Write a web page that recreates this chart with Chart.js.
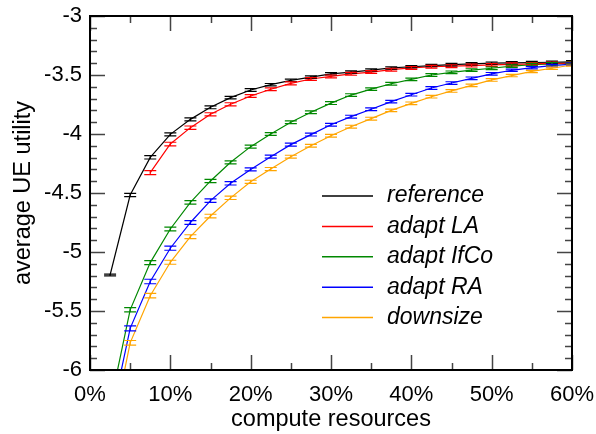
<!DOCTYPE html>
<html>
<head>
<meta charset="utf-8">
<script src="https://cdn.jsdelivr.net/npm/chart.js@4/dist/chart.umd.min.js"></script>
<style>
  body { margin: 0; background: #fff; }
  canvas { display: block; }
</style>
</head>
<body>
<canvas id="utility" width="596" height="434"></canvas>
<script>
// compute resources (%) at which each point was measured
var resources = [2.5, 5, 7.5, 10, 12.5, 15, 17.5, 20, 22.5, 25, 27.5, 30,
                 32.5, 35, 37.5, 40, 42.5, 45, 47.5, 50, 52.5, 55, 57.5, 60];

var labels = ['reference', 'adapt LA', 'adapt IfCo', 'adapt RA', 'downsize'];

var reference = [-5.195, -4.517, -4.198, -4.003, -3.876, -3.774, -3.692, -3.627, -3.582, -3.545, -3.518, -3.49,
                 -3.475, -3.458, -3.44, -3.43, -3.42, -3.412, -3.405, -3.40, -3.397, -3.394, -3.392, -3.388];
var adaptLA = [null, null, -4.328, -4.085, -3.946, -3.833, -3.748, -3.678, -3.621, -3.571, -3.534, -3.512,
               -3.49, -3.475, -3.455, -3.44, -3.43, -3.425, -3.42, -3.415, -3.41, -3.405, -3.402, -3.40];
var adaptIfCo = [-6.3, -5.49, -5.09, -4.805, -4.58, -4.398, -4.24, -4.107, -4.0, -3.90, -3.816, -3.738,
                 -3.67, -3.62, -3.574, -3.537, -3.50, -3.477, -3.458, -3.443, -3.425, -3.412, -3.405, -3.40];
var adaptRA = [-6.45, -5.647, -5.25, -4.968, -4.75, -4.565, -4.418, -4.30, -4.192, -4.09, -4.005, -3.922,
               -3.853, -3.79, -3.726, -3.667, -3.61, -3.568, -3.528, -3.49, -3.46, -3.438, -3.42, -3.407];
var downsize = [-6.6, -5.77, -5.37, -5.087, -4.87, -4.695, -4.541, -4.405, -4.297, -4.192, -4.10, -4.015,
                -3.938, -3.87, -3.80, -3.74, -3.684, -3.635, -3.588, -3.542, -3.505, -3.47, -3.443, -3.415];

// half widths of the confidence intervals
var refErr = [0.008, 0.014, 0.014, 0.013, 0.012, 0.012, 0.011, 0.011, 0.010, 0.010, 0.010, 0.010,
              0.010, 0.010, 0.010, 0.010, 0.010, 0.010, 0.010, 0.010, 0.010, 0.010, 0.010, 0.010];
var laErr = [null, null, 0.017, 0.015, 0.014, 0.013, 0.013, 0.012, 0.012, 0.012, 0.012, 0.012,
             0.012, 0.012, 0.012, 0.012, 0.012, 0.012, 0.012, 0.012, 0.012, 0.011, 0.011, 0.011];
var ifcoErr = [0.02, 0.018, 0.017, 0.016, 0.015, 0.014, 0.013, 0.013, 0.012, 0.012, 0.012, 0.012,
               0.011, 0.011, 0.011, 0.011, 0.011, 0.011, 0.011, 0.011, 0.011, 0.010, 0.010, 0.010];
var raErr = [0.022, 0.021, 0.019, 0.017, 0.016, 0.015, 0.014, 0.013, 0.013, 0.012, 0.012, 0.012,
             0.012, 0.012, 0.011, 0.011, 0.011, 0.011, 0.011, 0.011, 0.010, 0.010, 0.010, 0.010];
var dsErr = [0.022, 0.02, 0.019, 0.017, 0.016, 0.015, 0.014, 0.013, 0.013, 0.012, 0.012, 0.012,
             0.012, 0.012, 0.011, 0.011, 0.011, 0.011, 0.011, 0.011, 0.010, 0.010, 0.010, 0.010];

var colors = ['#000000', '#ff0000', '#008800', '#0000ff', '#ffa500'];
var series = [reference, adaptLA, adaptIfCo, adaptRA, downsize];
var errors = [refErr, laErr, ifcoErr, raErr, dsErr];

var fontFamily = '"Liberation Sans", Arial, Helvetica, sans-serif';

function points(values) {
    return resources.map(function (x, i) { return { x: x, y: values[i] }; });
}

// error bars drawn from the dataset's own scale
var errorBars = {
    id: 'errorBars',
    afterDatasetsDraw: function (chart, args, opts) {
        var ctx = chart.ctx, area = chart.chartArea, y = chart.scales.y;
        ctx.save();
        ctx.beginPath();
        ctx.rect(area.left, area.top, area.right - area.left, area.bottom - area.top);
        ctx.clip();
        chart.data.datasets.forEach(function (ds, d) {
            var meta = chart.getDatasetMeta(d);
            ctx.strokeStyle = ds.borderColor;
            ctx.lineWidth = 1.2;
            meta.data.forEach(function (pt, i) {
                var v = ds.data[i].y, e = ds.errors[i];
                if (v === null || e === null) return;
                var y1 = y.getPixelForValue(v - e), y2 = y.getPixelForValue(v + e);
                ctx.beginPath();
                ctx.moveTo(pt.x, y1); ctx.lineTo(pt.x, y2);
                ctx.moveTo(pt.x - opts.cap, y1); ctx.lineTo(pt.x + opts.cap, y1);
                ctx.moveTo(pt.x - opts.cap, y2); ctx.lineTo(pt.x + opts.cap, y2);
                ctx.stroke();
            });
        });
        ctx.restore();
    }
};

// box with inward ticks on all four sides
var frame = {
    id: 'frame',
    afterDraw: function (chart, args, opts) {
        var ctx = chart.ctx, a = chart.chartArea, sx = chart.scales.x, sy = chart.scales.y;
        ctx.save();
        ctx.strokeStyle = '#444';
        ctx.lineWidth = 1.5;
        ctx.beginPath();
        var v, p, len, k;
        for (k = 0; sx.min + k * opts.xMinor <= sx.max + 1e-9; k++) {
            v = sx.min + k * opts.xMinor;
            p = Math.round(sx.getPixelForValue(v)) + 0.5;
            len = (k % opts.xEvery === 0) ? opts.major : opts.minor;
            ctx.moveTo(p, a.bottom); ctx.lineTo(p, a.bottom - len);
            ctx.moveTo(p, a.top); ctx.lineTo(p, a.top + len);
        }
        for (k = 0; sy.min + k * opts.yMinor <= sy.max + 1e-9; k++) {
            v = sy.min + k * opts.yMinor;
            p = Math.round(sy.getPixelForValue(v)) + 0.5;
            len = (k % opts.yEvery === 0) ? opts.major : opts.minor;
            ctx.moveTo(a.left, p); ctx.lineTo(a.left + len, p);
            ctx.moveTo(a.right, p); ctx.lineTo(a.right - len, p);
        }
        ctx.stroke();
        ctx.strokeStyle = '#000';
        ctx.lineWidth = 2;
        ctx.strokeRect(a.left, a.top, a.right - a.left, a.bottom - a.top);
        ctx.restore();
    }
};

// legend inside the plot, lines then italic labels
var insideLegend = {
    id: 'insideLegend',
    afterDraw: function (chart, args, opts) {
        var ctx = chart.ctx;
        ctx.save();
        ctx.font = 'italic 23px ' + fontFamily;
        ctx.textBaseline = 'middle';
        ctx.textAlign = 'left';
        chart.data.datasets.forEach(function (ds, i) {
            var yy = opts.top + i * opts.row;
            ctx.strokeStyle = ds.borderColor;
            ctx.lineWidth = 1.5;
            ctx.beginPath();
            ctx.moveTo(opts.left, yy); ctx.lineTo(opts.left + opts.line, yy);
            ctx.stroke();
            ctx.fillStyle = '#000';
            ctx.fillText(ds.label, opts.left + opts.line + 14, yy);
        });
        ctx.restore();
    }
};

new Chart(document.getElementById('utility'), {
    type: 'line',
    data: {
        datasets: series.map(function (s, i) {
            return {
                label: labels[i],
                data: points(s),
                errors: errors[i],
                borderColor: colors[i],
                backgroundColor: colors[i],
                borderWidth: 1.2,
                pointRadius: 0,
                tension: 0,
                fill: false
            };
        })
    },
    options: {
        responsive: false,
        animation: false,
        layout: { padding: { top: 16, right: 24, left: 0, bottom: 0 } },
        plugins: {
            legend: { display: false },
            tooltip: { enabled: false },
            errorBars: { cap: 6 },
            frame: { xMinor: 5, xEvery: 2, yMinor: 0.1, yEvery: 5, major: 15, minor: 7 },
            insideLegend: { left: 322, top: 196, row: 30.4, line: 51 }
        },
        scales: {
            x: {
                type: 'linear',
                min: 0,
                max: 60,
                grid: { display: false, drawTicks: false },
                border: { display: false },
                afterFit: function (s) { s.height = 64; s.paddingLeft = 0; s.paddingRight = 0; },
                ticks: {
                    stepSize: 10,
                    autoSkip: false,
                    maxRotation: 0,
                    padding: 12,
                    color: '#000',
                    font: { family: fontFamily, size: 22 },
                    callback: function (v) { return v + '%'; }
                },
                title: {
                    display: true,
                    text: 'compute resources',
                    color: '#000',
                    padding: { top: 0, bottom: 0 },
                    font: { family: fontFamily, size: 23.5 }
                }
            },
            y: {
                type: 'linear',
                min: -6,
                max: -3,
                grid: { display: false, drawTicks: false },
                border: { display: false },
                afterFit: function (s) { s.width = 90; s.paddingTop = 0; s.paddingBottom = 0; },
                ticks: {
                    stepSize: 0.5,
                    padding: 8,
                    color: '#000',
                    font: { family: fontFamily, size: 22 },
                    callback: function (v) { return String(v); }
                },
                title: {
                    display: true,
                    text: 'average UE utility',
                    color: '#000',
                    padding: { top: 9, bottom: 0 },
                    font: { family: fontFamily, size: 23.5 }
                }
            }
        }
    },
    plugins: [errorBars, frame, insideLegend]
});
</script>
</body>
</html>
